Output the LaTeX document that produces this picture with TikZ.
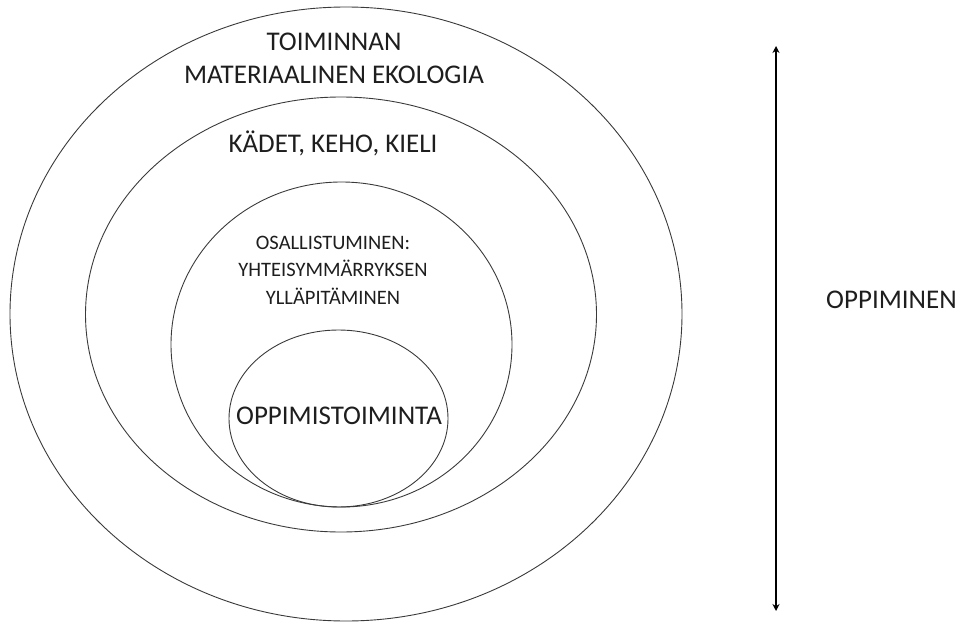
\documentclass[tikz,border=0pt]{standalone}
\usepackage{fontspec}
\setmainfont{Carlito}
\usetikzlibrary{shapes.geometric,arrows.meta}
\definecolor{ink}{HTML}{1E1E1E}
\definecolor{ring}{HTML}{3A3A3A}
\tikzset{
  ringnode/.style={ellipse, draw=ring, line width=0.9pt, inner sep=0pt},
  bigtext/.style={text=ink, font=\fontsize{27}{33}\selectfont, align=center, inner sep=0pt},
  smalltext/.style={text=ink, font=\fontsize{20.5}{27.5}\selectfont, align=center, inner sep=0pt},
  learnarrow/.style={line width=1.6pt, draw=black, {Stealth[length=7pt,width=7pt]}-{Stealth[length=7pt,width=7pt]}}
}
\begin{document}
\begin{tikzpicture}[x=1pt,y=-1pt]
\useasboundingbox (0,0) rectangle (969,623);
\node[ringnode, minimum width=672pt, minimum height=614pt] (outer) at (346,314) {};
\node[ringnode, minimum width=511pt, minimum height=435pt] (body) at (341,314.5) {};
\node[ringnode, minimum width=341pt, minimum height=325pt] (part) at (341.5,344.5) {};
\node[ringnode, minimum width=219pt, minimum height=177pt] (act) at (338.5,418.5) {};

\node[bigtext] (t1) at (334,58) {TOIMINNAN\\MATERIAALINEN EKOLOGIA};
\node[bigtext] (t2) at (333,143) {KÄDET, KEHO, KIELI};
\node[smalltext] (t3) at (333,270) {OSALLISTUMINEN:\\YHTEISYMMÄRRYKSEN\\YLLÄPITÄMINEN};
\node[bigtext] (t4) at (339,416) {OPPIMISTOIMINTA};

\coordinate (atop) at (776,46);
\coordinate (abot) at (776,611);
\draw[learnarrow] (atop) -- (abot);
\node[bigtext, anchor=west] (t5) at (826,300) {OPPIMINEN};
\end{tikzpicture}
\end{document}
